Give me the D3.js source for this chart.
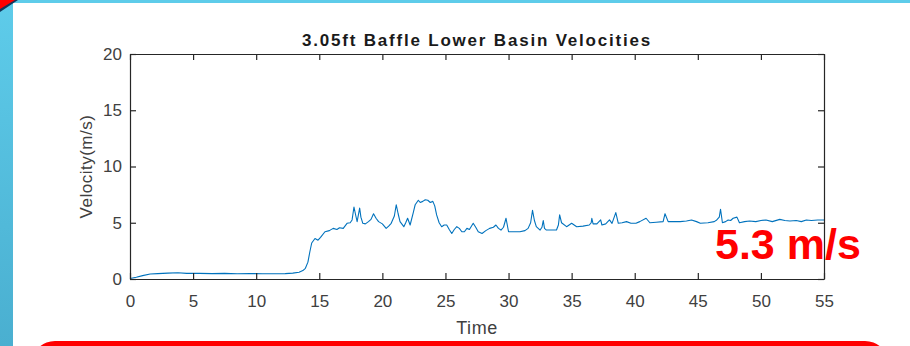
<!DOCTYPE html>
<html>
<head>
<meta charset="utf-8">
<script src="https://cdn.jsdelivr.net/npm/d3@7"></script>
<style>
  html, body { margin: 0; padding: 0; background: #fff; }
  svg { display: block; }
</style>
</head>
<body>
<div id="chart"></div>
<script>
const time = [
  0, 0.5, 1, 1.6, 2.2, 3, 3.8, 4.5, 5.5, 6.5,
  7.5, 8.5, 9.5, 10.5, 11.5, 12.3, 12.9, 13.4, 13.7, 13.9,
  14.1, 14.25, 14.4, 14.66, 14.9, 15.1, 15.45, 15.8, 16.1, 16.4,
  16.6, 16.9, 17.2, 17.45, 17.6, 17.75, 17.9, 18.0, 18.2, 18.3,
  18.45, 18.65, 18.9, 19.1, 19.3, 19.5, 19.7, 20.0, 20.3, 20.5,
  20.7, 20.95, 21.1, 21.25, 21.4, 21.7, 21.85, 22.0, 22.2, 22.45,
  22.6, 22.85, 23.0, 23.2, 23.4, 23.6, 23.8, 24.0, 24.15, 24.3,
  24.5, 24.7, 24.9, 25.1, 25.3, 25.5, 25.7, 25.9, 26.1, 26.3,
  26.5, 26.7, 26.9, 27.2, 27.4, 27.6, 27.9, 28.2, 28.5, 28.8,
  29.0, 29.2, 29.4, 29.6, 29.8, 30.0, 30.4, 30.9, 31.3, 31.55,
  31.75, 31.9, 32.05, 32.2, 32.5, 32.65, 32.75, 32.85, 33.0, 33.4,
  33.8, 33.95, 34.05, 34.2, 34.6, 35.0, 35.4, 35.9, 36.4, 36.55,
  36.6, 36.7, 37.0, 37.3, 37.4, 37.7, 38.0, 38.2, 38.5, 38.7,
  39.0, 39.35, 39.7, 40.1, 40.4, 40.9, 41.2, 41.7, 42.25, 42.4,
  42.65, 43.1, 43.6, 44.1, 44.5, 44.9, 45.2, 45.8, 46.3, 46.5,
  46.7, 46.8, 46.95, 47.2, 47.4, 47.6, 47.8, 48.1, 48.3, 48.7,
  49.1, 49.6, 50.0, 50.4, 50.9, 51.5, 51.9, 52.3, 52.8, 53.2,
  53.6, 54.0, 54.5, 55
];
const velocity = [
  0.05, 0.15, 0.3, 0.45, 0.48, 0.52, 0.55, 0.5, 0.5, 0.48,
  0.5, 0.47, 0.48, 0.47, 0.46, 0.48, 0.52, 0.6, 0.75, 0.95,
  1.5, 2.4, 3.2, 3.6, 3.45, 3.7, 4.2, 4.3, 4.5, 4.4,
  4.55, 4.5, 4.95, 5.0, 5.25, 6.4, 5.6, 5.1, 6.3, 5.5,
  4.95, 4.9, 5.1, 5.3, 5.8, 5.4, 5.1, 4.9, 4.5, 4.7,
  4.95, 5.6, 6.6, 5.8, 5.1, 4.65, 5.0, 5.4, 4.8, 5.9,
  6.6, 7.0, 6.8, 6.9, 7.05, 7.0, 6.8, 6.9, 6.5, 5.7,
  5.0, 4.65, 4.8, 4.8, 4.4, 4.05, 4.4, 4.65, 4.5, 4.2,
  4.2, 4.5, 4.4, 4.95, 4.6, 4.2, 4.05, 4.3, 4.5, 4.6,
  4.8, 4.5, 4.35, 4.6, 5.4, 4.2, 4.2, 4.2, 4.3, 4.5,
  5.0, 6.1, 5.2, 4.65, 4.35, 4.6, 5.2, 4.5, 4.35, 4.35,
  4.35, 4.8, 5.7, 5.0, 4.65, 4.95, 4.65, 4.7, 4.8, 5.0,
  5.4, 4.9, 4.9, 5.25, 4.8, 4.9, 5.25, 4.95, 5.9, 4.95,
  5.0, 5.1, 4.95, 4.95, 5.1, 5.4, 5.0, 5.05, 5.1, 5.8,
  5.1, 5.1, 5.1, 5.15, 5.25, 5.1, 4.95, 5.0, 5.1, 5.25,
  5.5, 6.2, 5.0, 5.1, 5.25, 5.2, 5.4, 5.5, 5.0, 5.1,
  5.15, 5.1, 5.2, 5.25, 5.1, 5.3, 5.2, 5.15, 5.2, 5.1,
  5.25, 5.2, 5.25, 5.25
];
const xTicks = [0, 5, 10, 15, 20, 25, 30, 35, 40, 45, 50, 55];
const yTicks = [0, 5, 10, 15, 20];
const title = '3.05ft Baffle Lower Basin Velocities';
const xLabel = 'Time';
const yLabel = 'Velocity(m/s)';
const callout = '5.3 m/s';

const W = 910, H = 346;
const margin = { top: 54, right: 86, bottom: 67, left: 130 };
const width = W - margin.left - margin.right;
const height = H - margin.top - margin.bottom;

const svg = d3.select('#chart').append('svg')
  .attr('width', W)
  .attr('height', H);

// slide decoration
const defs = svg.append('defs');
const grad = defs.append('linearGradient')
  .attr('id', 'side')
  .attr('x1', 0).attr('y1', 0).attr('x2', 0).attr('y2', 1);
grad.append('stop').attr('offset', '0%').attr('stop-color', '#5ECCEA');
grad.append('stop').attr('offset', '100%').attr('stop-color', '#4AAFD0');

svg.append('rect').attr('x', 0).attr('y', 0).attr('width', W).attr('height', 3).attr('fill', '#5ECCEA');
svg.append('rect').attr('x', 0).attr('y', 0).attr('width', 13).attr('height', H).attr('fill', 'url(#side)');
svg.append('path').attr('d', 'M0,0 L18,0 L0,12 Z').attr('fill', '#13355a');
svg.append('path').attr('d', 'M0,0 L15,0 L0,9 Z').attr('fill', '#ff0000');
svg.append('rect')
  .attr('x', 33).attr('y', 341)
  .attr('width', 854).attr('height', 40)
  .attr('rx', 22).attr('ry', 22)
  .attr('fill', '#ff0000');

const g = svg.append('g')
  .attr('transform', `translate(${margin.left},${margin.top})`);

const x = d3.scaleLinear().domain([0, 55]).range([0, width]);
const y = d3.scaleLinear().domain([0, 20]).range([height, 0]);

const axisColor = '#262626';
const tickLen = 6;
const font = '"Liberation Sans", Arial, sans-serif';

// line
const line = d3.line()
  .x((d, i) => x(time[i]))
  .y(d => y(d));

g.append('path')
  .datum(velocity)
  .attr('fill', 'none')
  .attr('stroke', '#0072BD')
  .attr('stroke-width', 1.1)
  .attr('stroke-linejoin', 'round')
  .attr('d', line);

// axes (box with inward ticks on all sides)
const xb = g.append('g')
  .attr('transform', `translate(0,${height})`)
  .call(d3.axisBottom(x).tickValues(xTicks).tickSizeInner(-tickLen).tickSizeOuter(0).tickPadding(16));
const xt = g.append('g')
  .call(d3.axisTop(x).tickValues(xTicks).tickSizeInner(-tickLen).tickSizeOuter(0).tickFormat(''));
const yl = g.append('g')
  .call(d3.axisLeft(y).tickValues(yTicks).tickSizeInner(-tickLen).tickSizeOuter(0).tickPadding(8));
const yr = g.append('g')
  .attr('transform', `translate(${width},0)`)
  .call(d3.axisRight(y).tickValues(yTicks).tickSizeInner(-tickLen).tickSizeOuter(0).tickFormat(''));

[xb, xt, yl, yr].forEach(a => {
  a.select('.domain').attr('stroke', axisColor).attr('stroke-width', 1.2);
  a.selectAll('.tick line').attr('stroke', axisColor).attr('stroke-width', 1.2);
  a.selectAll('.tick text')
    .attr('fill', '#404040')
    .style('font-family', font)
    .style('font-size', '17px');
});
xb.selectAll('.tick text').attr('dy', '0.71em');

// titles
svg.append('text')
  .attr('x', margin.left + width / 2)
  .attr('y', 46)
  .attr('text-anchor', 'middle')
  .attr('fill', '#1a1a1a')
  .style('font-family', font)
  .style('font-weight', 'bold')
  .style('font-size', '17px')
  .style('letter-spacing', '1.8px')
  .text(title);

svg.append('text')
  .attr('x', margin.left + width / 2)
  .attr('y', 334)
  .attr('text-anchor', 'middle')
  .attr('fill', '#404040')
  .style('font-family', font)
  .style('font-size', '18px')
  .style('letter-spacing', '0.6px')
  .text(xLabel);

svg.append('text')
  .attr('transform', `translate(92,${margin.top + height / 2}) rotate(-90)`)
  .attr('text-anchor', 'middle')
  .attr('fill', '#404040')
  .style('font-family', font)
  .style('font-size', '17px')
  .style('letter-spacing', '0.5px')
  .text(yLabel);

// callout
svg.append('text')
  .attr('x', 715)
  .attr('y', 259)
  .attr('fill', '#ff0000')
  .style('font-family', font)
  .style('font-weight', 'bold')
  .style('font-size', '43px')
  .text(callout);
</script>
</body>
</html>
